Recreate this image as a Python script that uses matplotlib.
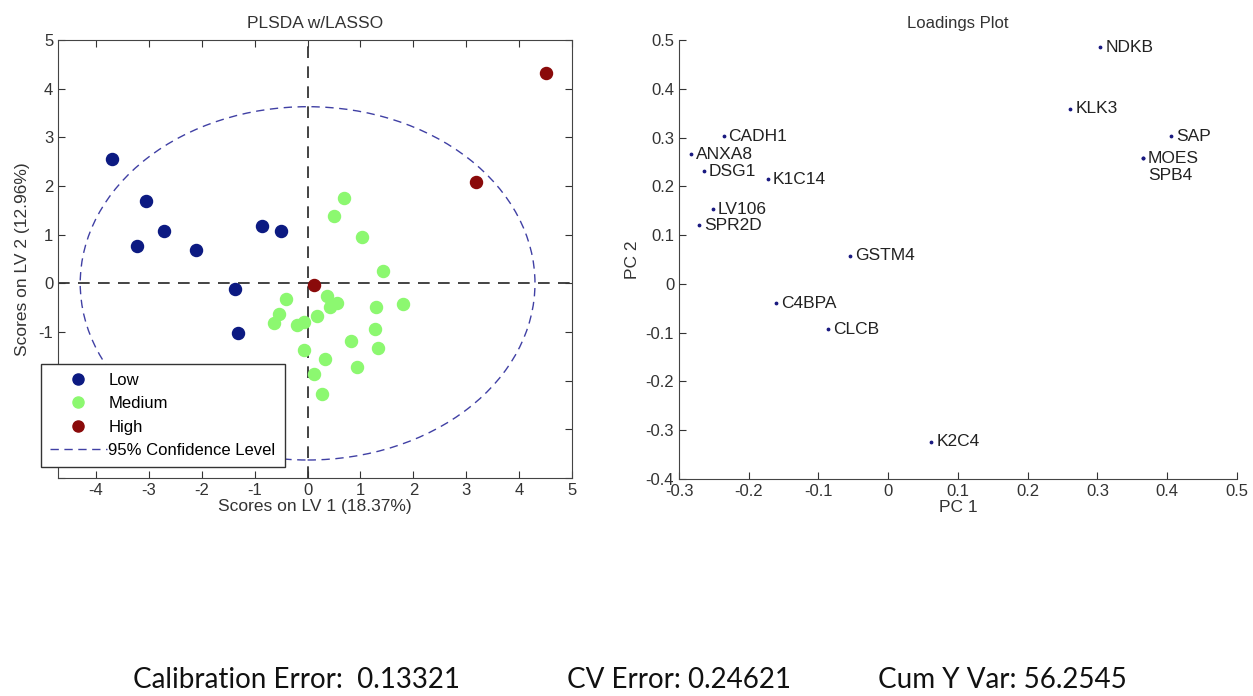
import numpy as np
import matplotlib
matplotlib.use("Agg")
import matplotlib.pyplot as plt
from matplotlib.lines import Line2D
from matplotlib.patches import Ellipse

plt.rcParams["font.family"] = ["Liberation Sans", "DejaVu Sans"]
plt.rcParams["axes.unicode_minus"] = False

# PLS-DA scores (LV1, LV2) per class
low_lv1 = [-3.70, -3.05, -2.72, -3.22, -2.11, -0.87, -0.50, -1.38, -1.32]
low_lv2 = [2.56, 1.70, 1.07, 0.77, 0.68, 1.17, 1.07, -0.11, -1.02]

med_lv1 = [0.68, 0.49, 1.02, 1.42, -0.41, -0.54, -0.63, -0.20, -0.07, 0.36, 0.17,
           0.43, 0.56, 1.30, 1.80, 1.28, 1.33, 0.83, -0.07, 0.33, 0.93, 0.12, 0.28]
med_lv2 = [1.76, 1.38, 0.96, 0.26, -0.33, -0.62, -0.81, -0.85, -0.80, -0.26, -0.67,
           -0.48, -0.41, -0.48, -0.43, -0.94, -1.32, -1.18, -1.36, -1.55, -1.72, -1.87, -2.28]

high_lv1 = [4.51, 3.18, 0.12]
high_lv2 = [4.33, 2.08, -0.03]

# 95% confidence ellipse semi-axes
conf_a = 4.30
conf_b = 3.63

# loadings
genes = ["NDKB", "KLK3", "SAP", "MOES", "SPB4", "CADH1", "ANXA8", "DSG1", "K1C14",
         "LV106", "SPR2D", "GSTM4", "C4BPA", "CLCB", "K2C4"]
pc1 = [0.304, 0.261, 0.406, 0.365, 0.365, -0.236, -0.283, -0.264, -0.173,
       -0.251, -0.271, -0.055, -0.161, -0.086, 0.062]
pc2 = [0.485, 0.359, 0.303, 0.258, 0.258, 0.303, 0.266, 0.231, 0.215,
       0.153, 0.120, 0.058, -0.040, -0.093, -0.324]

stats = [("Calibration Error:  0.13321", 0.106), ("CV Error: 0.24621", 0.4525),
         ("Cum Y Var: 56.2545", 0.7007)]

C_LOW = "#0c1a82"
C_MED = "#8cf870"
C_HIGH = "#8a0a0a"
C_ELL = "#4040a4"
TXT = "#333333"

fig = plt.figure(figsize=(12.53, 6.96), dpi=100)

# --- scores plot ---
ax = fig.add_axes([0.0463, 0.3132, 0.4102, 0.6293])
ax.set_xlim(-4.72, 5)
ax.set_ylim(-4, 5)
ax.axhline(0, color="#222222", lw=1.2, ls=(0, (7, 5)), zorder=1)
ax.axvline(0, color="#222222", lw=1.2, ls=(0, (7, 5)), zorder=1)
ax.add_patch(Ellipse((0, 0), 2 * conf_a, 2 * conf_b, fill=False, ec=C_ELL,
                     lw=1.0, ls=(0, (6, 4)), zorder=2))
ax.scatter(low_lv1, low_lv2, s=75, c=C_LOW, zorder=3)
ax.scatter(med_lv1, med_lv2, s=75, c=C_MED, zorder=3)
ax.scatter(high_lv1, high_lv2, s=75, c=C_HIGH, zorder=3)
ax.set_xticks(range(-4, 6))
ax.set_yticks(range(-4, 6))
# labels under the legend box are left blank
ax.set_yticklabels(["", "", ""] + [str(v) for v in range(-1, 6)])
ax.tick_params(direction="in", top=True, right=True, labelsize=12, length=5,
               colors=TXT)
for s in ax.spines.values():
    s.set_color("#444444")
ax.set_title("PLSDA w/LASSO", fontsize=12.5, color=TXT, pad=9)
ax.set_xlabel("Scores on LV 1 (18.37%)", fontsize=12.5, color=TXT, labelpad=1)
ax.set_ylabel("Scores on LV 2 (12.96%)", fontsize=12.5, color=TXT, labelpad=6)

handles = [
    Line2D([], [], marker="o", ls="none", color=C_LOW, ms=8),
    Line2D([], [], marker="o", ls="none", color=C_MED, ms=8),
    Line2D([], [], marker="o", ls="none", color=C_HIGH, ms=8),
    Line2D([], [], color=C_ELL, lw=1.0, ls=(0, (6, 4))),
]
leg = ax.legend(handles, ["Low", "Medium", "High", "95% Confidence Level"],
                loc="lower left", bbox_to_anchor=(0.0327, 0.329),
                bbox_transform=fig.transFigure, fontsize=12, frameon=True,
                fancybox=False, edgecolor="#333333", framealpha=1,
                borderpad=0.55, labelspacing=0.5, handlelength=3.4,
                handletextpad=0.1, borderaxespad=0)
leg.get_frame().set_linewidth(1.0)
leg.set_zorder(10)

# --- loadings plot ---
ax2 = fig.add_axes([0.5419, 0.3118, 0.4453, 0.6307])
ax2.set_xlim(-0.3, 0.5)
ax2.set_ylim(-0.4, 0.5)
ax2.scatter(pc1, pc2, s=3, c="#1a1a80", zorder=3)
for name, x, y in zip(genes, pc1, pc2):
    dy = -0.035 if name == "SPB4" else 0.0
    ax2.text(x + 0.007, y + dy, name, fontsize=12.5, va="center", ha="left",
             color="#222222")
ax2.set_xticks(np.round(np.arange(-0.3, 0.51, 0.1), 1))
ax2.set_yticks(np.round(np.arange(-0.4, 0.51, 0.1), 1))
ax2.set_xticklabels(["-0.3", "-0.2", "-0.1", "0", "0.1", "0.2", "0.3", "0.4", "0.5"])
ax2.set_yticklabels(["-0.4", "-0.3", "-0.2", "-0.1", "0", "0.1", "0.2", "0.3", "0.4", "0.5"])
ax2.spines["top"].set_visible(False)
ax2.spines["right"].set_visible(False)
for s in ax2.spines.values():
    s.set_color("#444444")
ax2.tick_params(direction="in", labelsize=12, length=5, colors=TXT)
ax2.set_title("Loadings Plot", fontsize=12, color=TXT, pad=9)
ax2.set_xlabel("PC 1", fontsize=12.5, color=TXT, labelpad=1)
ax2.set_ylabel("PC 2", fontsize=12.5, color=TXT, labelpad=4)

for txt, xf in stats:
    fig.text(xf, 0.011, txt, fontsize=20, family=["Lato", "DejaVu Sans"],
             color="#111111", ha="left", va="baseline")

fig.savefig("out.png", dpi=100, facecolor="white")
